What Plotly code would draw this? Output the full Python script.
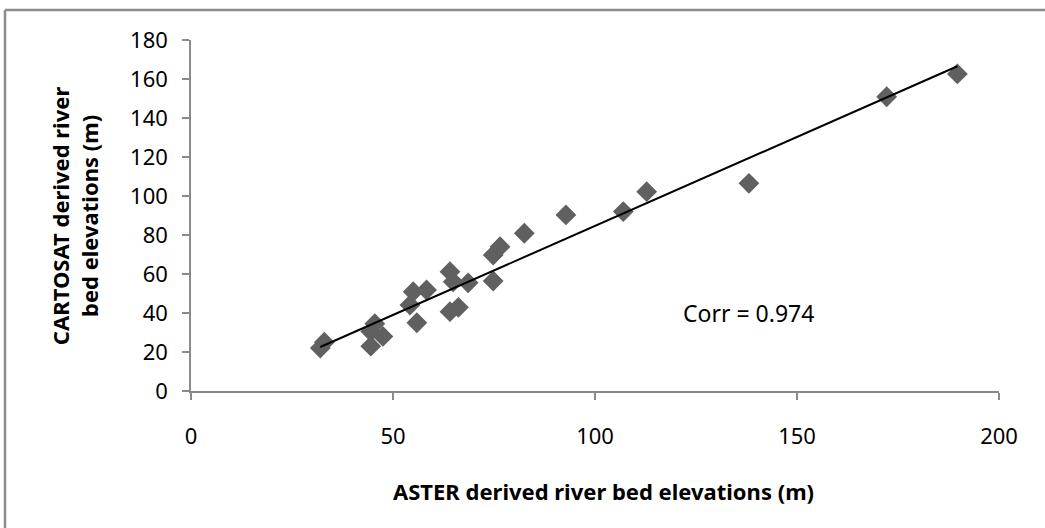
import numpy as np
import plotly.graph_objects as go

# ASTER (x) vs CARTOSAT (y) river bed elevations (m)
aster = [32.0, 33.0, 44.5, 44.5, 45.5, 47.5, 54.2, 55.0, 55.9, 58.3,
         64.1, 64.9, 64.1, 66.2, 68.6, 74.8, 74.8, 76.5, 82.5, 92.8,
         107.0, 112.8, 138.1, 172.2, 189.7]
cartosat = [22.0, 25.0, 23.0, 30.5, 34.5, 28.0, 44.1, 50.9, 35.0, 51.8,
            61.2, 56.0, 40.7, 42.9, 55.5, 56.4, 69.7, 74.0, 80.9, 90.3,
            92.0, 102.2, 106.5, 150.9, 162.6]
x_ticks = [0, 50, 100, 150, 200]
y_ticks = [0, 20, 40, 60, 80, 100, 120, 140, 160, 180]
corr_label = "Corr = 0.974"

slope, intercept = np.polyfit(aster, cartosat, 1)
fit_x = [min(aster), max(aster)]
fit_y = [intercept + slope * v for v in fit_x]

fig = go.Figure()
fig.add_trace(go.Scatter(x=aster, y=cartosat, mode="markers",
                         marker=dict(symbol="diamond", size=16, color="rgb(96,96,96)",
                                     line=dict(width=0)),
                         showlegend=False, hoverinfo="x+y"))
fig.add_trace(go.Scatter(x=fit_x, y=fit_y, mode="lines",
                         line=dict(color="black", width=2),
                         showlegend=False, hoverinfo="skip"))

FONT = "Noto Sans"
axis_common = dict(showgrid=False, zeroline=False, showline=True,
                   linecolor="#8a8a8a", linewidth=1.5, ticks="outside",
                   ticklen=7, tickcolor="#8a8a8a", tickwidth=1.5,
                   tickfont=dict(family=FONT, size=22, color="black"))

fig.update_layout(
    width=1045, height=528,
    margin=dict(l=191, r=46, t=40, b=137),
    paper_bgcolor="white", plot_bgcolor="white",
    xaxis=dict(range=[0, 200], tickvals=x_ticks, ticklabelstandoff=18, **axis_common),
    yaxis=dict(range=[0, 180], tickvals=y_ticks, ticklabelstandoff=10, **axis_common),
    annotations=[
        dict(text="<b>ASTER derived river bed elevations (m)</b>", xref="paper", yref="paper",
             x=0.511, y=-0.285, xanchor="center", yanchor="middle", showarrow=False,
             font=dict(family=FONT, size=22, color="black")),
        dict(text="<b>CARTOSAT derived river<br>bed elevations (m)</b>", xref="paper", yref="paper",
             x=-0.144, y=0.5, xanchor="center", yanchor="middle", showarrow=False,
             textangle=-90, font=dict(family=FONT, size=22, color="black")),
        dict(text=corr_label, xref="x", yref="y", x=138.1, y=40,
             xanchor="center", yanchor="middle", showarrow=False,
             font=dict(family=FONT, size=23, color="black")),
    ],
    shapes=[
        dict(type="line", xref="paper", yref="paper",
             x0=(5 - 191) / 808, x1=(5 - 191) / 808, y0=(391 - 10) / 351, y1=(391 - 540) / 351,
             line=dict(color="#8c8c8c", width=2.5)),
        dict(type="line", xref="paper", yref="paper",
             x0=(5 - 191) / 808, x1=(1060 - 191) / 808, y0=(391 - 10) / 351, y1=(391 - 10) / 351,
             line=dict(color="#8c8c8c", width=2.5)),
    ],
)

fig.write_html("out.html")
